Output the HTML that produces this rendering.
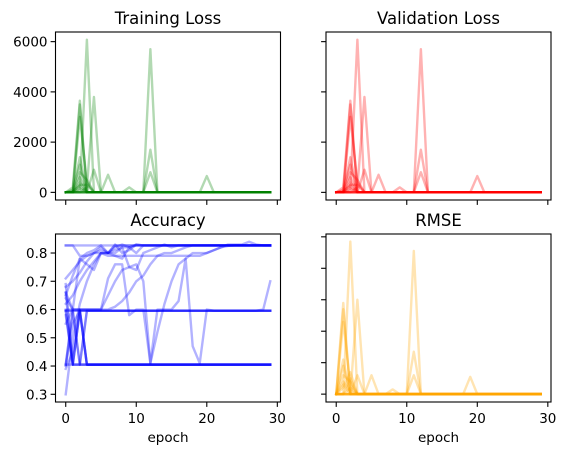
<!DOCTYPE html>
<html><head><meta charset="utf-8">
<style>
html,body{margin:0;padding:0;background:#fff;}
svg{display:block;font-family:"DejaVu Sans","Liberation Sans",sans-serif;}
</style></head>
<body>
<svg id="fig" width="566" height="455" viewBox="0 0 566 455" xmlns="http://www.w3.org/2000/svg"></svg>
<script>
// ---- data ----
const epochs = [0,1,2,3,4,5,6,7,8,9,10,11,12,13,14,15,16,17,18,19,20,21,22,23,24,25,26,27,28,29];
const lossTicks = [0,2000,4000,6000];
const accTicks = [0.3,0.4,0.5,0.6,0.7,0.8];
const rmseTicks = [0,10,20,30,40,50];
const xTicks = [0,10,20,30];
const lossRuns = [
 [0,0,100,6080,0,0,0,0,0,0,0,0,0,0,0,0,0,0,0,0,0,0,0,0,0,0,0,0,0,0],
 [0,0,0,200,3800,0,0,0,0,0,0,0,0,0,0,0,0,0,0,0,0,0,0,0,0,0,0,0,0,0],
 [0,200,3650,0,0,0,0,0,0,0,0,0,0,0,0,0,0,0,0,0,0,0,0,0,0,0,0,0,0,0],
 [0,0,3500,0,0,0,0,0,0,0,0,0,0,0,0,0,0,0,0,0,0,0,0,0,0,0,0,0,0,0],
 [0,0,3000,400,0,0,0,0,0,0,0,0,0,0,0,0,0,0,0,0,0,0,0,0,0,0,0,0,0,0],
 [0,0,1400,0,900,0,0,0,0,0,0,0,0,0,0,0,0,0,0,0,0,0,0,0,0,0,0,0,0,0],
 [0,100,1100,0,0,0,0,0,0,0,0,0,0,0,0,0,0,0,0,0,0,0,0,0,0,0,0,0,0,0],
 [0,0,800,500,0,0,0,0,0,0,0,0,0,0,0,0,0,0,0,0,0,0,0,0,0,0,0,0,0,0],
 [0,0,400,0,0,0,700,0,0,0,0,0,0,0,0,0,0,0,0,0,0,0,0,0,0,0,0,0,0,0],
 [0,0,0,0,0,0,0,0,0,0,0,0,5700,0,0,0,0,0,0,0,0,0,0,0,0,0,0,0,0,0],
 [0,0,0,0,0,0,0,0,0,200,0,0,1700,0,0,0,0,0,0,0,0,0,0,0,0,0,0,0,0,0],
 [0,0,0,0,0,0,0,0,0,0,0,0,800,0,0,0,0,0,0,0,650,0,0,0,0,0,0,0,0,0],
 [0,0,300,300,0,0,0,0,0,0,0,0,0,0,0,0,0,0,0,0,0,0,0,0,0,0,0,0,0,0],
 [0,0,600,0,0,0,0,0,0,0,0,0,0,0,0,0,0,0,0,0,0,0,0,0,0,0,0,0,0,0],
 [0,50,250,0,0,0,0,0,0,0,0,0,0,0,0,0,0,0,0,0,0,0,0,0,0,0,0,0,0,0],
 [0,0,150,0,0,0,0,0,0,0,0,0,0,0,0,0,0,0,0,0,0,0,0,0,0,0,0,0,0,0],
 [0,0,0,0,0,0,0,0,0,0,0,0,0,0,0,0,0,0,0,0,0,0,0,0,0,0,0,0,0,0],
 [0,0,0,0,0,0,0,0,0,0,0,0,0,0,0,0,0,0,0,0,0,0,0,0,0,0,0,0,0,0]
];
const valRuns = lossRuns;
const rmseRuns = [
 [0,0,48.5,0,0,0,0,0,0,0,0,0,0,0,0,0,0,0,0,0,0,0,0,0,0,0,0,0,0,0],
 [0,0,0,30,0,0,0,0,0,0,0,0,0,0,0,0,0,0,0,0,0,0,0,0,0,0,0,0,0,0],
 [0,29,0,0,0,0,0,0,0,0,0,0,0,0,0,0,0,0,0,0,0,0,0,0,0,0,0,0,0,0],
 [0,27,0,0,0,0,0,0,0,0,0,0,0,0,0,0,0,0,0,0,0,0,0,0,0,0,0,0,0,0],
 [0,23,3,0,0,0,0,0,0,0,0,0,0,0,0,0,0,0,0,0,0,0,0,0,0,0,0,0,0,0],
 [0,11,0,6,0,0,0,0,0,0,0,0,0,0,0,0,0,0,0,0,0,0,0,0,0,0,0,0,0,0],
 [0,9,0,0,0,0,0,0,0,0,0,0,0,0,0,0,0,0,0,0,0,0,0,0,0,0,0,0,0,0],
 [0,6,4,0,0,0,0,0,0,0,0,0,0,0,0,0,0,0,0,0,0,0,0,0,0,0,0,0,0,0],
 [0,3,0,0,0,6,0,0,0,0,0,0,0,0,0,0,0,0,0,0,0,0,0,0,0,0,0,0,0,0],
 [0,0,0,0,0,0,0,0,0,0,0,45.5,0,0,0,0,0,0,0,0,0,0,0,0,0,0,0,0,0,0],
 [0,0,0,0,0,0,0,0,1.5,0,0,13.5,0,0,0,0,0,0,0,0,0,0,0,0,0,0,0,0,0,0],
 [0,0,0,0,0,0,0,0,0,0,0,6,0,0,0,0,0,0,0,5.5,0,0,0,0,0,0,0,0,0,0],
 [0,0,5,0,0,0,0,0,0,0,0,0,0,0,0,0,0,0,0,0,0,0,0,0,0,0,0,0,0,0],
 [0,2,7,0,0,0,0,0,0,0,0,0,0,0,0,0,0,0,0,0,0,0,0,0,0,0,0,0,0,0],
 [0,4,1,0,0,0,0,0,0,0,0,0,0,0,0,0,0,0,0,0,0,0,0,0,0,0,0,0,0,0],
 [0,0,2,0,0,0,0,0,0,0,0,0,0,0,0,0,0,0,0,0,0,0,0,0,0,0,0,0,0,0],
 [0,0,0,0,0,0,0,0,0,0,0,0,0,0,0,0,0,0,0,0,0,0,0,0,0,0,0,0,0,0],
 [0,0,0,0,0,0,0,0,0,0,0,0,0,0,0,0,0,0,0,0,0,0,0,0,0,0,0,0,0,0]
];
const accRuns = [
 [0.827,0.827,0.79,0.79,0.80,0.80,0.79,0.79,0.79,0.79,0.79,0.79,0.79,0.79,0.79,0.79,0.79,0.79,0.79,0.79,0.80,0.81,0.82,0.825,0.827,0.827,0.827,0.827,0.827,0.827],
 [0.30,0.50,0.62,0.70,0.76,0.80,0.80,0.80,0.82,0.82,0.827,0.827,0.827,0.827,0.827,0.827,0.827,0.827,0.827,0.827,0.827,0.827,0.827,0.827,0.827,0.827,0.827,0.827,0.827,0.827],
 [0.66,0.60,0.60,0.60,0.60,0.60,0.71,0.76,0.76,0.58,0.60,0.60,0.41,0.60,0.60,0.60,0.63,0.78,0.47,0.41,0.60,0.596,0.596,0.596,0.596,0.596,0.596,0.596,0.60,0.70],
 [0.71,0.74,0.77,0.79,0.80,0.81,0.80,0.82,0.83,0.82,0.80,0.827,0.827,0.827,0.827,0.827,0.827,0.827,0.827,0.827,0.827,0.827,0.827,0.827,0.827,0.827,0.827,0.827,0.827,0.827],
 [0.596,0.405,0.596,0.405,0.405,0.405,0.405,0.405,0.405,0.405,0.405,0.405,0.405,0.405,0.405,0.405,0.405,0.405,0.405,0.405,0.405,0.405,0.405,0.405,0.405,0.405,0.405,0.405,0.405,0.405],
 [0.405,0.596,0.405,0.405,0.405,0.405,0.405,0.405,0.405,0.405,0.405,0.405,0.405,0.405,0.405,0.405,0.405,0.405,0.405,0.405,0.405,0.405,0.405,0.405,0.405,0.405,0.405,0.405,0.405,0.405],
 [0.66,0.405,0.596,0.596,0.596,0.596,0.596,0.596,0.596,0.596,0.596,0.596,0.596,0.596,0.596,0.596,0.596,0.596,0.596,0.596,0.596,0.596,0.596,0.596,0.596,0.596,0.596,0.596,0.596,0.596],
 [0.596,0.405,0.405,0.596,0.596,0.596,0.596,0.596,0.596,0.596,0.596,0.596,0.596,0.596,0.596,0.596,0.596,0.596,0.596,0.596,0.596,0.596,0.596,0.596,0.596,0.596,0.596,0.596,0.596,0.596],
 [0.62,0.65,0.70,0.74,0.77,0.80,0.80,0.83,0.80,0.81,0.83,0.827,0.827,0.827,0.827,0.827,0.827,0.827,0.827,0.827,0.827,0.827,0.827,0.827,0.827,0.827,0.827,0.827,0.827,0.827],
 [0.40,0.55,0.596,0.405,0.405,0.405,0.405,0.405,0.405,0.405,0.405,0.405,0.405,0.405,0.405,0.405,0.405,0.405,0.405,0.405,0.405,0.405,0.405,0.405,0.405,0.405,0.405,0.405,0.405,0.405],
 [0.64,0.60,0.60,0.60,0.60,0.60,0.60,0.61,0.63,0.66,0.70,0.72,0.76,0.79,0.80,0.80,0.81,0.82,0.827,0.827,0.827,0.827,0.827,0.827,0.827,0.827,0.827,0.827,0.827,0.827],
 [0.55,0.60,0.78,0.76,0.74,0.80,0.80,0.79,0.78,0.82,0.83,0.827,0.827,0.827,0.827,0.827,0.827,0.827,0.827,0.827,0.827,0.827,0.827,0.827,0.827,0.827,0.827,0.827,0.827,0.827],
 [0.68,0.70,0.73,0.77,0.80,0.82,0.80,0.81,0.82,0.75,0.74,0.80,0.81,0.82,0.83,0.82,0.827,0.827,0.827,0.827,0.827,0.827,0.827,0.827,0.827,0.827,0.827,0.827,0.827,0.827],
 [0.60,0.60,0.60,0.60,0.60,0.60,0.65,0.70,0.74,0.75,0.76,0.70,0.41,0.52,0.62,0.70,0.76,0.78,0.80,0.80,0.80,0.81,0.82,0.83,0.83,0.83,0.84,0.83,0.827,0.827],
 [0.39,0.45,0.60,0.405,0.405,0.405,0.405,0.405,0.405,0.405,0.405,0.405,0.405,0.405,0.405,0.405,0.405,0.405,0.405,0.405,0.405,0.405,0.405,0.405,0.405,0.405,0.405,0.405,0.405,0.405],
 [0.596,0.596,0.405,0.405,0.405,0.405,0.405,0.405,0.405,0.405,0.405,0.405,0.405,0.405,0.405,0.405,0.405,0.405,0.405,0.405,0.405,0.405,0.405,0.405,0.405,0.405,0.405,0.405,0.405,0.405],
 [0.58,0.405,0.405,0.405,0.405,0.405,0.405,0.405,0.405,0.405,0.405,0.405,0.405,0.405,0.405,0.405,0.405,0.405,0.405,0.405,0.405,0.405,0.405,0.405,0.405,0.405,0.405,0.405,0.405,0.405],
 [0.405,0.596,0.596,0.405,0.405,0.405,0.405,0.405,0.405,0.405,0.405,0.405,0.405,0.405,0.405,0.405,0.405,0.405,0.405,0.405,0.405,0.405,0.405,0.405,0.405,0.405,0.405,0.405,0.405,0.405],
 [0.405,0.405,0.596,0.596,0.596,0.596,0.596,0.596,0.596,0.596,0.596,0.596,0.596,0.596,0.596,0.596,0.596,0.596,0.596,0.596,0.596,0.596,0.596,0.596,0.596,0.596,0.596,0.596,0.596,0.596],
 [0.596,0.596,0.596,0.596,0.596,0.596,0.596,0.596,0.596,0.596,0.596,0.596,0.596,0.596,0.596,0.596,0.596,0.596,0.596,0.596,0.596,0.596,0.596,0.596,0.596,0.596,0.596,0.596,0.596,0.596],
 [0.69,0.405,0.405,0.596,0.596,0.596,0.596,0.596,0.596,0.596,0.596,0.596,0.596,0.596,0.596,0.596,0.596,0.596,0.596,0.596,0.596,0.596,0.596,0.596,0.596,0.596,0.596,0.596,0.596,0.596],
 [0.65,0.72,0.78,0.80,0.81,0.827,0.80,0.827,0.827,0.827,0.827,0.827,0.827,0.827,0.827,0.827,0.827,0.827,0.827,0.827,0.827,0.827,0.827,0.827,0.827,0.827,0.827,0.827,0.827,0.827],
 [0.827,0.827,0.827,0.827,0.827,0.827,0.827,0.827,0.827,0.827,0.827,0.827,0.827,0.827,0.827,0.827,0.827,0.827,0.827,0.827,0.827,0.827,0.827,0.827,0.827,0.827,0.827,0.827,0.827,0.827]
];

// ---- drawing ----
const NS = "http://www.w3.org/2000/svg";
const svg = document.getElementById('fig');
function mk(tag, attrs, parent){
  const e = document.createElementNS(NS, tag);
  for (const k in attrs) e.setAttribute(k, attrs[k]);
  (parent||svg).appendChild(e);
  return e;
}
function panel(cfg){
  const g = mk('g', {});
  
  
  const {x0,x1,y0,y1,ymin,ymax} = cfg;
  const xmin=-1.45, xmax=30.45;
  const sx = v => x0 + (v-xmin)/(xmax-xmin)*(x1-x0);
  const sy = v => y1 - (v-ymin)/(ymax-ymin)*(y1-y0);
  cfg.runs.forEach((run, i) => {
    const pts = run.map((v,j)=> sx(epochs[j]).toFixed(2)+','+sy(v).toFixed(2)).join(' ');
    const pl = mk('polyline', {points:pts, fill:'none', stroke:cfg.color, 'stroke-opacity':0.3, 'stroke-width':2.4, 'stroke-linejoin':'round', 'stroke-linecap':'square'}, g);
    
    
  });
  const frame = mk('rect', {x:x0, y:y0, width:x1-x0, height:y1-y0, fill:'none', stroke:'#000', 'stroke-width':1.1}, g);
  
  
  cfg.yTicks.forEach(t => {
    const y = sy(t);
    mk('line', {x1:x0-4.9, x2:x0, y1:y, y2:y, stroke:'#000', 'stroke-width':1.1}, g);
    if (cfg.yLabels) {
      const tx = mk('text', {x:x0-8, y:y+5, 'text-anchor':'end', 'font-size':13.5, fill:'#000'}, g);
      tx.textContent = cfg.yFmt(t);
      
      
    }
  });
  xTicks.forEach(t => {
    const x = sx(t);
    mk('line', {x1:x, x2:x, y1:y1, y2:y1+4.9, stroke:'#000', 'stroke-width':1.1}, g);
    if (cfg.xLabels) {
      const tx = mk('text', {x:x, y:y1+21, 'text-anchor':'middle', 'font-size':13.5, fill:'#000'}, g);
      tx.textContent = t;
      
      
    }
  });
  if (cfg.xLabels) {
    const xl = mk('text', {x:(x0+x1)/2, y:y1+40, 'text-anchor':'middle', 'font-size':13.5, fill:'#000'}, g);
    xl.textContent = 'epoch';
    
    
  }
  const title = mk('text', {x:(x0+x1)/2, y:y0-8, 'text-anchor':'middle', 'font-size':16.5, fill:'#000'}, g);
  title.textContent = cfg.title;
  
  
}
const lossMin = -304, lossMax = 6384;
panel({name:'training-loss-panel', series:'training-loss', title:'Training Loss', x0:55.5, x1:280.5, y0:32, y1:200, ymin:lossMin, ymax:lossMax, runs:lossRuns, color:'#008000', yTicks:lossTicks, yLabels:true, yFmt:t=>String(t), xLabels:false});
panel({name:'validation-loss-panel', series:'validation-loss', title:'Validation Loss', x0:326, x1:551, y0:32, y1:200, ymin:lossMin, ymax:lossMax, runs:valRuns, color:'#ff0000', yTicks:lossTicks, yLabels:false, yFmt:t=>String(t), xLabels:false});
panel({name:'accuracy-panel', series:'accuracy', title:'Accuracy', x0:55.5, x1:280.5, y0:234, y1:402, ymin:0.2727, ymax:0.8673, runs:accRuns, color:'#0000ff', yTicks:accTicks, yLabels:true, yFmt:t=>t.toFixed(1), xLabels:true});
panel({name:'rmse-panel', series:'rmse', title:'RMSE', x0:326, x1:551, y0:234, y1:402, ymin:-2.5, ymax:50.9, runs:rmseRuns, color:'#ffa500', yTicks:rmseTicks, yLabels:false, yFmt:t=>String(t), xLabels:true});
</script>
</body></html>
